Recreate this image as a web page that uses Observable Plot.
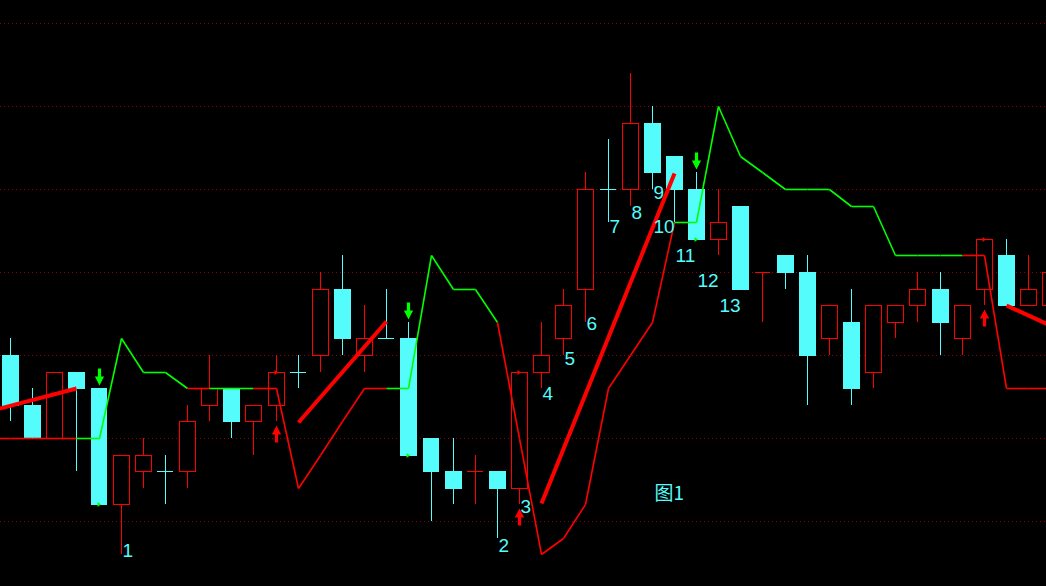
<!DOCTYPE html>
<html><head><meta charset="utf-8">
<script src="https://cdn.jsdelivr.net/npm/d3@7"></script>
<script src="https://cdn.jsdelivr.net/npm/@observablehq/plot@0.6"></script>
<style>html,body{margin:0;padding:0;background:#000;overflow:hidden}</style>
</head><body><div id="chart"></div>
<script>
// ---- candle data (index 0..47) ----
const openP  = [11.0,10.7,10.5,10.9,10.8,10.1,10.3,10.3,10.3,10.7,10.8,10.6,10.7,10.9,11.0,11.4,11.0,11.1,11.1,10.5,10.3,10.3,10.3,10.2,10.9,11.1,11.4,12.0,12.0,12.4,12.2,12.0,11.7,11.9,11.5,11.6,11.5,11.1,11.2,10.9,11.2,11.3,11.4,11.1,11.4,11.6,11.3,11.3];
const closeP = [10.7,10.5,10.9,10.8,10.1,10.4,10.4,10.3,10.6,10.8,10.6,10.7,10.9,10.9,11.4,11.1,11.1,11.1,10.4,10.3,10.2,10.3,10.2,10.9,11.0,11.3,12.0,12.0,12.4,12.1,12.0,11.7,11.8,11.4,11.5,11.5,11.0,11.3,10.8,11.3,11.3,11.4,11.2,11.3,11.7,11.3,11.4,11.5];
const highP  = [11.1,10.8,10.9,10.9,10.8,10.4,10.5,10.4,10.7,11.0,10.8,10.7,11.0,11.0,11.5,11.6,11.3,11.4,11.2,10.5,10.5,10.4,10.3,10.9,11.2,11.4,12.1,12.3,12.7,12.5,12.2,12.1,12.0,11.9,11.5,11.6,11.6,11.3,11.4,11.3,11.3,11.5,11.5,11.3,11.7,11.7,11.6,11.5];
const lowP   = [10.6,10.5,10.5,10.3,10.1,9.8,10.2,10.1,10.2,10.6,10.5,10.4,10.6,10.8,10.9,11.0,10.9,11.1,10.4,10.0,10.1,10.1,9.9,10.1,10.8,11.0,11.2,11.8,11.9,12.0,11.8,11.7,11.6,11.4,11.2,11.4,10.7,11.0,10.7,10.8,11.1,11.2,11.0,11.0,11.3,11.3,11.3,11.3];

// ---- stop line (index -1..47) and segment colour state ----
const stopStart = -1;
const stopVal = [10.5,10.5,10.5,10.5,10.5,10.5,11.1,10.9,10.9,10.8,10.8,10.8,10.8,10.8,10.2,10.4,10.6,10.8,10.8,10.8,11.6,11.4,11.4,11.2,10.5,9.8,9.9,10.1,10.8,11.0,11.2,11.8,11.8,12.5,12.2,12.1,12.0,12.0,12.0,11.9,11.9,11.6,11.6,11.6,11.6,11.6,10.8,10.8,10.8];
const stopSeg = "RRRRGGGGGRGGRRRRRRGGGGGRRRRRRRRGGGGGGGGGGGGGRRRR";

// ---- thick trend lines [i1, p1, i2, p2] ----
const trendI1 = [-1, 13, 24, 45];
const trendP1 = [10.663, 10.596, 10.108, 11.301];
const trendI2 = [3, 17, 30, 47];
const trendP2 = [10.80, 11.205, 12.096, 11.18];

// ---- signals ----
const sellIdx = [4, 18, 31];
const buyIdx  = [12, 23, 44];

// ---- labels ----
const labelText = ["1","2","3","4","5","6","7","8","9","10","11","12","13"];
const labelIdx  = [5, 22, 23, 24, 25, 26, 27, 28, 29, 29, 30, 31, 32];
const labelP    = [9.825, 9.855, 10.09, 10.77, 10.98, 11.19, 11.78, 11.86, 11.98, 11.78, 11.60, 11.45, 11.30];
const figText = ["图1"];
const figIdx = [29.1];
const figP = [10.17];

const gridVals = [10, 10.5, 11, 11.5, 12, 12.5, 13];

const RED = "#ff0000", CYAN = "#54fcfc", GREEN = "#00ff00";

const candles = openP.map((o, i) => {
  const c = closeP[i];
  const prev = i > 0 ? closeP[i - 1] : o;
  const up = c > o || (c === o && c > prev);
  return {i, o, c, h: highP[i], l: lowP[i], up, doji: c === o, col: up ? RED : CYAN};
});
const bodies = candles.filter(d => !d.doji);
const dojis = candles.filter(d => d.doji);

const segs = [];
for (let k = 0; k < stopVal.length - 1; k++) {
  segs.push({x1: stopStart + k, y1: stopVal[k], x2: stopStart + k + 1, y2: stopVal[k + 1],
             col: stopSeg[k] === "G" ? GREEN : RED});
}
const trends = trendI1.map((d, k) => ({x1: d, y1: trendP1[k], x2: trendI2[k], y2: trendP2[k]}));
const labels = labelText.map((t, k) => ({t, x: labelIdx[k], y: labelP[k]}));
const figs = figText.map((t, k) => ({t, x: figIdx[k], y: figP[k]}));
const sells = sellIdx.map(i => candles[i]);
const buys = buyIdx.map(i => candles[i]);

const arrowDown = {draw(ctx) {
  ctx.moveTo(-1.6, -17); ctx.lineTo(1.6, -17); ctx.lineTo(1.6, -9); ctx.lineTo(4.6, -9);
  ctx.lineTo(0, 0); ctx.lineTo(-4.6, -9); ctx.lineTo(-1.6, -9); ctx.closePath();
}};
const arrowUp = {draw(ctx) {
  ctx.moveTo(-1.6, 17); ctx.lineTo(1.6, 17); ctx.lineTo(1.6, 9); ctx.lineTo(4.6, 9);
  ctx.lineTo(0, 0); ctx.lineTo(-4.6, 9); ctx.lineTo(-1.6, 9); ctx.closePath();
}};
const tri = {draw(ctx) {
  ctx.moveTo(-2, -2.5); ctx.lineTo(1.5, 0); ctx.lineTo(-2, 2.5); ctx.closePath();
}};

const HW = 0.36;
const chart = Plot.plot({
  width: 1046, height: 586, margin: 0,
  x: {domain: [-0.452, 46.81], axis: null, round: true},
  y: {domain: [9.6084, 13.1386], axis: null, round: true},
  color: {type: "identity"},
  style: {background: "#000"},
  marks: [
    Plot.ruleY(gridVals, {stroke: "#900000", strokeDasharray: "1,3", strokeWidth: 1, shapeRendering: "crispEdges"}),
    Plot.ruleX(candles, {x: "i", y1: "l", y2: "h", stroke: "col", strokeWidth: 1, shapeRendering: "crispEdges"}),
    Plot.rect(bodies, {x1: d => d.i - HW, x2: d => d.i + HW, y1: "o", y2: "c",
      fill: d => d.up ? "#000" : CYAN, stroke: "col", strokeWidth: 1, shapeRendering: "crispEdges"}),
    Plot.ruleY(dojis, {y: "o", x1: d => d.i - HW, x2: d => d.i + HW, stroke: "col", strokeWidth: 1, shapeRendering: "crispEdges"}),
    Plot.link(segs, {x1: "x1", y1: "y1", x2: "x2", y2: "y2", stroke: "col", strokeWidth: 1.6, clip: true}),
    Plot.link(trends, {x1: "x1", y1: "y1", x2: "x2", y2: "y2", stroke: RED, strokeWidth: 4, clip: true}),
    Plot.dot(sells, {x: "i", y: "h", symbol: arrowDown, fill: GREEN, stroke: "none", dy: -3, r: 5}),
    Plot.dot(buys, {x: "i", y: "l", symbol: arrowUp, fill: RED, stroke: "none", dy: 4, r: 5}),
    Plot.dot(sells, {x: "i", y: "c", symbol: tri, fill: GREEN, stroke: "none", r: 2}),
    Plot.dot(buys, {x: "i", y: "c", symbol: tri, fill: RED, stroke: "none", r: 2}),
    Plot.text(labels, {x: "x", y: "y", text: "t", fill: CYAN, fontSize: 19, textAnchor: "start", dx: 1,
      fontFamily: "'Liberation Sans', Arial, sans-serif"}),
    Plot.text(figs, {x: "x", y: "y", text: "t", fill: CYAN, fontSize: 19, textAnchor: "start",
      fontFamily: "'Noto Sans CJK SC', sans-serif"})
  ]
});
document.getElementById("chart").appendChild(chart);
</script>
</body></html>
